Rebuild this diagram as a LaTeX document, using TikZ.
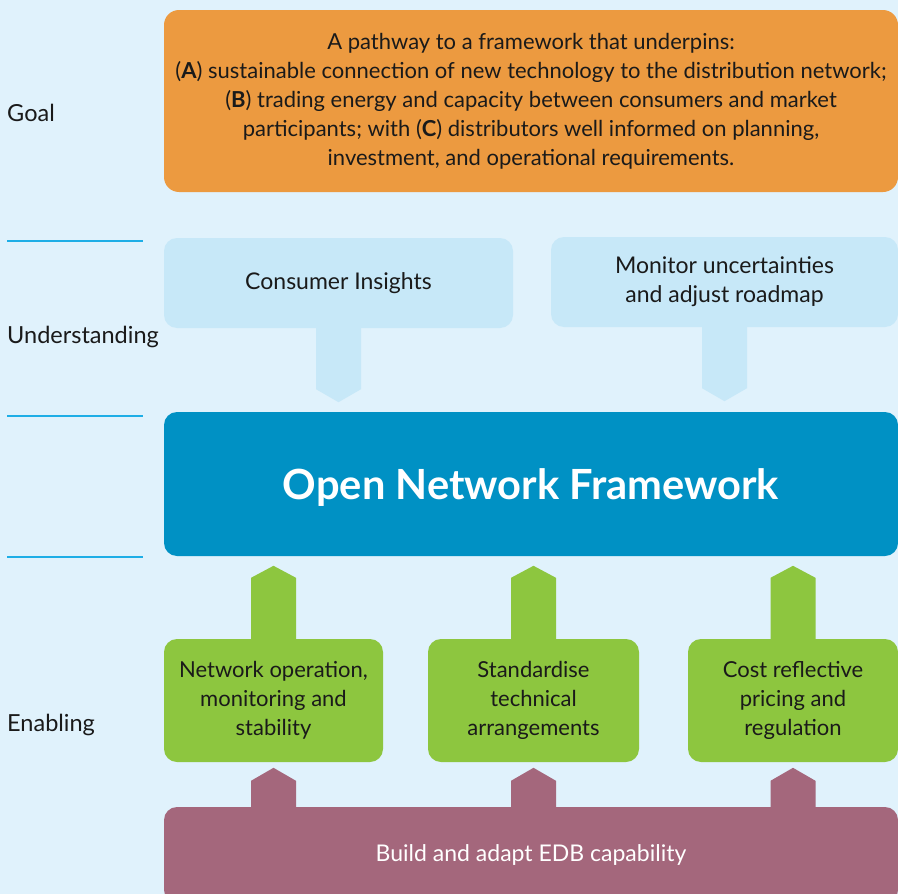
\documentclass[tikz,border=0pt]{standalone}
\usepackage{fontspec}
\setmainfont{Lato}
\usetikzlibrary{calc}

\definecolor{bgblue}{HTML}{E0F2FC}
\definecolor{ruleblue}{HTML}{1EAEE6}
\definecolor{goalorange}{HTML}{EC9A40}
\definecolor{insightblue}{HTML}{C7E8F8}
\definecolor{onfblue}{HTML}{0091C4}
\definecolor{enablegreen}{HTML}{8DC63F}
\definecolor{edbpurple}{HTML}{A4677C}
\definecolor{txt}{HTML}{1A1A1A}

\tikzset{
  box/.style={rounded corners=13pt, inner sep=0pt, align=center, text=txt,
    font=\fontsize{22}{29}\selectfont},
  rowlabel/.style={anchor=west, inner sep=0pt, text=txt, font=\fontsize{23.5}{28}\selectfont},
  divider/.style={ruleblue, line width=2pt},
}

\begin{document}
\begin{tikzpicture}[x=1pt,y=-1pt]
  \fill[bgblue] (0,0) rectangle (898,894);
  \clip (0,0) rectangle (898,894);

  % row labels and dividers
  \node[rowlabel] (lgoal) at (7,113) {Goal};
  \node[rowlabel] (lund) at (7,337) {Understanding};
  \node[rowlabel] (lenab) at (7,725) {Enabling};
  \draw[divider] (7,241) -- (143,241);
  \draw[divider] (7,416) -- (143,416);
  \draw[divider] (7,557) -- (143,557);

  % goal
  \node[box,fill=goalorange,minimum width=734pt,minimum height=182pt,rounded corners=15pt] (goal) at (531,101)
    {A pathway to a framework that underpins:\\
     (\textbf{A}) sustainable connection of new technology to the distribution network;\\
     (\textbf{B}) trading energy and capacity between consumers and market\\
     participants; with (\textbf{C}) distributors well informed on planning,\\
     investment, and operational requirements.};

  % understanding
  \node[box,fill=insightblue,minimum width=349pt,minimum height=90pt,font=\fontsize{23}{29}\selectfont]
    (ci) at (338.5,283) {Consumer Insights};
  \node[box,fill=insightblue,minimum width=347pt,minimum height=90pt,font=\fontsize{23}{29}\selectfont]
    (mon) at (724.5,282) {Monitor uncertainties\\and adjust roadmap};

  % framework
  \node[box,fill=onfblue,minimum width=734pt,minimum height=144pt] (onf) at (531,484) {};
  \node[text=white,font=\fontsize{41.6}{50}\selectfont\bfseries,inner sep=0pt] (onftext)
    at ($(onf.center)+(0,4)$) {Open Network Framework};

  \foreach \b in {ci,mon}{
    \fill[insightblue] ($(\b.south)+(-22.5,0)$) -- ++(0,61) -- ++(22.5,13) -- ++(22.5,-13) -- ++(0,-61) -- cycle;
  }

  % enabling
  \node[box,fill=enablegreen,minimum width=219pt,minimum height=123pt] (g1) at (273.5,700.5)
    {Network operation,\\monitoring and\\stability};
  \node[box,fill=enablegreen,minimum width=211pt,minimum height=123pt] (g2) at (533.5,700.5)
    {Standardise\\technical\\arrangements};
  \node[box,fill=enablegreen,minimum width=210pt,minimum height=123pt] (g3) at (793,700.5)
    {Cost reflective\\pricing and\\regulation};

  \node[box,fill=edbpurple,minimum width=734pt,minimum height=96pt,text=white,
    font=\fontsize{23}{29}\selectfont] (edb) at (531,855) {Build and adapt EDB capability};

  \foreach \b in {g1,g2,g3}{
    \fill[enablegreen] ($(\b.north)+(-22.5,0)$) -- ++(0,-61) -- ++(22.5,-12) -- ++(22.5,12) -- ++(0,61) -- cycle;
    \fill[edbpurple] ($(\b.south |- edb.north)+(-22.5,0)$) -- ++(0,-26) -- ++(22.5,-13) -- ++(22.5,13) -- ++(0,26) -- cycle;
  }
\end{tikzpicture}
\end{document}
